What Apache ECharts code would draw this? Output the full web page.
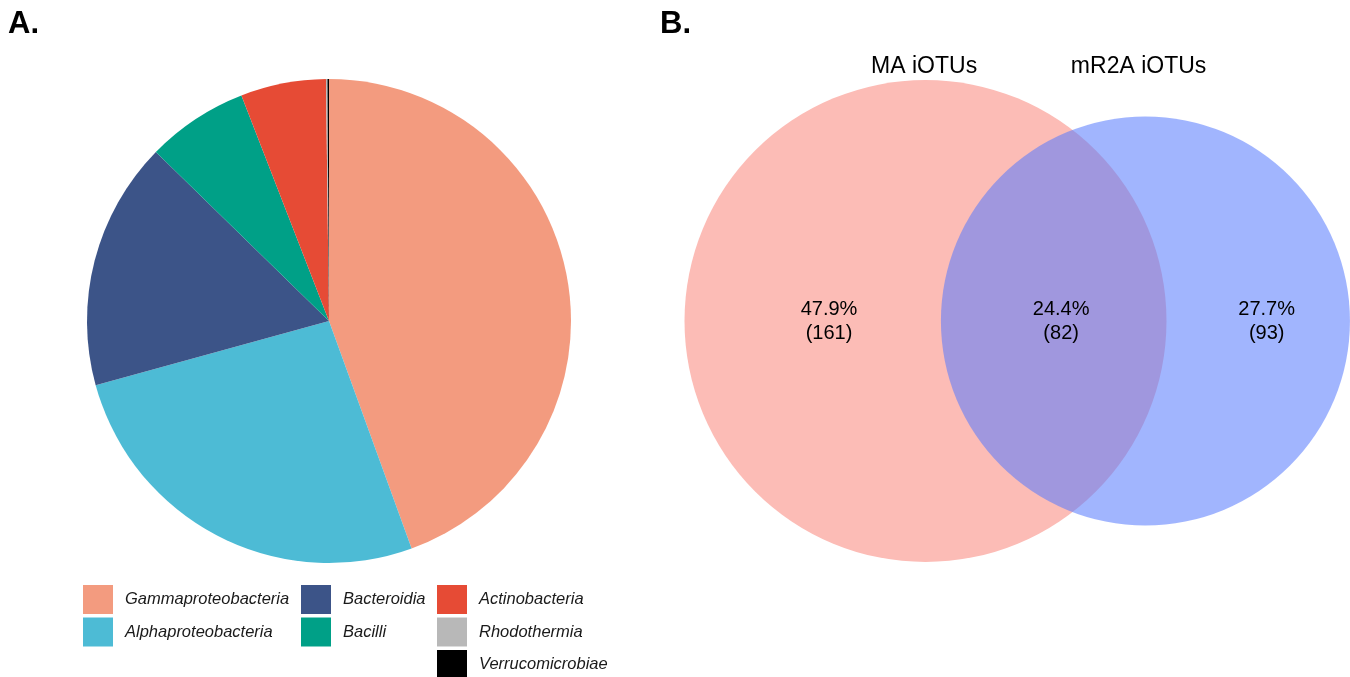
<!DOCTYPE html>
<html>
<head>
<meta charset="utf-8">
<script src="https://cdn.jsdelivr.net/npm/echarts@6/dist/echarts.min.js"></script>
<style>
  html, body { margin: 0; padding: 0; background: #fff; }
  #chart { width: 1350px; height: 677px; }
</style>
</head>
<body>
<div id="chart"></div>
<script>
// Panel A: class composition (share of iOTUs, %)
const classNames = ['Gammaproteobacteria', 'Alphaproteobacteria', 'Bacteroidia', 'Bacilli',
                    'Actinobacteria', 'Rhodothermia', 'Verrucomicrobiae'];
const classShares = [44.5, 26.3, 16.6, 6.8, 5.7, 0.1, 0.1];
const classColors = ['#F39B7F', '#4DBBD5', '#3C5488', '#00A087', '#E64B35', '#B8B8B8', '#000000'];

// Panel B: iOTU overlap between media
const setNames = ['MA iOTUs', 'mR2A iOTUs'];
const regionCounts = [161, 82, 93];   // MA only, shared, mR2A only

const FONT = 'Liberation Sans, Arial, Helvetica, sans-serif';

// Area-proportional circles: radius from set size, centre distance from shared area
const sizeA = regionCounts[0] + regionCounts[1];
const sizeB = regionCounts[2] + regionCounts[1];
const rA = Math.sqrt(sizeA / Math.PI);
const rB = Math.sqrt(sizeB / Math.PI);

function lensArea(r1, r2, d) {
  if (d >= r1 + r2) return 0;
  if (d <= Math.abs(r1 - r2)) return Math.PI * Math.min(r1, r2) ** 2;
  const a1 = Math.acos((d * d + r1 * r1 - r2 * r2) / (2 * d * r1));
  const a2 = Math.acos((d * d + r2 * r2 - r1 * r1) / (2 * d * r2));
  const k = Math.sqrt((-d + r1 + r2) * (d + r1 - r2) * (d - r1 + r2) * (d + r1 + r2));
  return r1 * r1 * a1 + r2 * r2 * a2 - 0.5 * k;
}
let lo = Math.abs(rA - rB), hi = rA + rB;
for (let i = 0; i < 60; i++) {
  const mid = (lo + hi) / 2;
  if (lensArea(rA, rB, mid) > regionCounts[1]) lo = mid; else hi = mid;
}
const dist = (lo + hi) / 2;

const circles = [
  [0, 0, rA, '#FCBCB6'],
  [dist, 0, rB, 'rgba(88,123,253,0.56)']
];

const total = regionCounts.reduce((a, b) => a + b, 0);
// label anchors inside each region (data units)
const regionLabelX = [-3.52, 4.95, 12.45];
const regionLabels = regionCounts.map((c, i) => ({
  value: [regionLabelX[i], 0],
  text: (100 * c / total).toFixed(1) + '%\n(' + c + ')'
}));
const setLabelY = rA + 0.5;
const setLabels = [
  { value: [-0.05, setLabelY], text: setNames[0] },
  { value: [dist - 0.25, setLabelY], text: setNames[1] }
];

// plot scale for panel B (pixels per data unit)
const S = 241 / rA;
const gridLeft = 660, gridWidth = 690, gridTop = 0, gridHeight = 642;
const xMin = -(925.5 - gridLeft) / S;
const yHalf = (gridHeight / 2) / S;

const chart = echarts.init(document.getElementById('chart'), null, { renderer: 'canvas' });

const legendCols = [[0, 1], [2, 3], [4, 5, 6]];
const legendLefts = [83, 301, 437];

const titleStyle = { fontFamily: FONT, fontSize: 31, fontWeight: 'bold', color: '#000' };

chart.setOption({
  animation: false,
  backgroundColor: '#ffffff',
  title: [
    { text: 'A.', left: 8, top: 9, padding: 0, textStyle: titleStyle },
    { text: 'B.', left: 660, top: 9, padding: 0, textStyle: titleStyle }
  ],
  legend: legendCols.map((idx, k) => ({
    orient: 'vertical',
    left: legendLefts[k],
    top: 585,
    height: 120,
    padding: 0,
    itemWidth: 30,
    itemHeight: 29,
    itemGap: 3.5,
    icon: 'rect',
    selectedMode: false,
    data: idx.map(i => classNames[i]),
    textStyle: { fontFamily: FONT, fontSize: 16.5, fontStyle: 'italic', color: '#1a1a1a', padding: [2, 0, 0, 7] }
  })),
  grid: { left: gridLeft, top: gridTop, width: gridWidth, height: gridHeight, show: false },
  xAxis: { type: 'value', min: xMin, max: xMin + gridWidth / S, show: false },
  yAxis: { type: 'value', min: -yHalf, max: yHalf, show: false },
  series: [
    {
      type: 'pie',
      center: [329, 321],
      radius: 242,
      startAngle: 90,
      clockwise: true,
      label: { show: false },
      labelLine: { show: false },
      emphasis: { disabled: true },
      itemStyle: { borderWidth: 0 },
      data: classNames.map((n, i) => ({ name: n, value: classShares[i], itemStyle: { color: classColors[i] } }))
    },
    {
      type: 'custom',
      clip: false,
      silent: true,
      data: circles.map(c => [c[0], c[1], c[2]]),
      renderItem: function (params, api) {
        const c = api.coord([api.value(0), api.value(1)]);
        const r = api.size([api.value(2), 0])[0];
        return {
          type: 'circle',
          shape: { cx: c[0], cy: c[1], r: r },
          style: { fill: circles[params.dataIndex][3] }
        };
      }
    },
    {
      type: 'scatter',
      symbolSize: 0,
      silent: true,
      itemStyle: { opacity: 1 },
      data: regionLabels.map(d => ({ value: d.value, text: d.text })),
      label: {
        show: true, position: 'inside',
        formatter: p => p.data.text,
        fontFamily: FONT, fontSize: 20, lineHeight: 24, color: '#000', align: 'center'
      }
    },
    {
      type: 'scatter',
      symbolSize: 0,
      silent: true,
      itemStyle: { opacity: 1 },
      data: setLabels.map(d => ({ value: d.value, text: d.text })),
      label: {
        show: true, position: 'inside',
        formatter: p => p.data.text,
        fontFamily: FONT, fontSize: 23, color: '#000'
      }
    }
  ]
});
</script>
</body>
</html>
